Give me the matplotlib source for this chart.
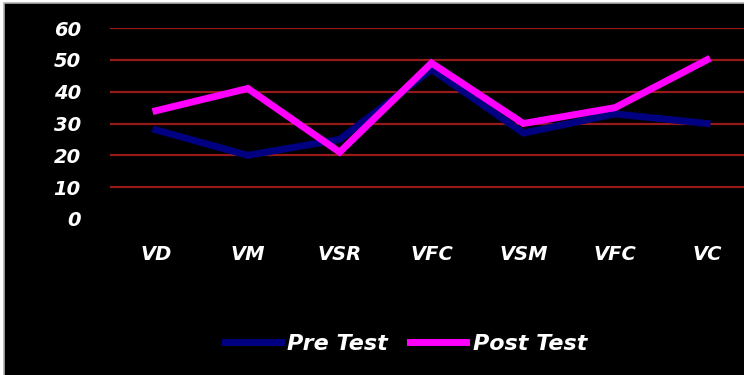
import matplotlib.pyplot as plt
from matplotlib.patches import Rectangle

categories = ['VD', 'VM', 'VSR', 'VFC', 'VSM', 'VFC', 'VC']
pre_test = [28, 20, 25, 47, 27, 33, 30]
post_test = [34, 41, 21, 49, 30, 35, 50]
y_ticks = [0, 10, 20, 30, 40, 50, 60]

W, H = 744, 375
fig = plt.figure(figsize=(W / 100, H / 100), dpi=100, facecolor='white')

# black panel with a thin grey frame on top and left, kept behind the axes
fig.patches.append(Rectangle((4 / W, -0.1), 1.2, 1.1 - 3 / H, transform=fig.transFigure,
                             facecolor='black', edgecolor='#b0b0b0', linewidth=1.2, zorder=-10))

font = dict(family='DejaVu Sans', weight='bold', style='italic', color='white')

ax = fig.add_axes([110 / W, 1 - 219 / H, (753 - 110) / W, (219 - 28) / H])
ax.set_facecolor('none')
x = list(range(len(categories)))

for v in y_ticks[1:]:
    ax.axhline(v, color='#961a1a', linewidth=1.6, zorder=1)

ax.plot(x, pre_test, color='#000080', linewidth=5, label='Pre Test', zorder=2,
        solid_joinstyle='miter')
ax.plot(x, post_test, color='#ff00ff', linewidth=5, label='Post Test', zorder=3,
        solid_joinstyle='miter')

ax.set_xlim(-0.5, 6.5)
ax.set_ylim(0, 60)
ax.set_yticks(y_ticks)
ax.set_yticklabels([str(v) for v in y_ticks], fontsize=14, **font)
ax.set_xticks(x)
ax.set_xticklabels(categories, fontsize=14, **font)
ax.tick_params(axis='y', length=0, pad=21)
ax.tick_params(axis='x', length=0, pad=19)
for s in ax.spines.values():
    s.set_visible(False)

leg = fig.legend(loc='center', bbox_to_anchor=(406 / W, 1 - 344 / H), ncol=2,
                 frameon=False, handlelength=2.5, handletextpad=0.3, columnspacing=1.0,
                 prop=dict(family='DejaVu Sans', weight='bold', style='italic', size=16))
for t in leg.get_texts():
    t.set_color('white')

fig.savefig('out.png', dpi=100, facecolor=fig.get_facecolor())
